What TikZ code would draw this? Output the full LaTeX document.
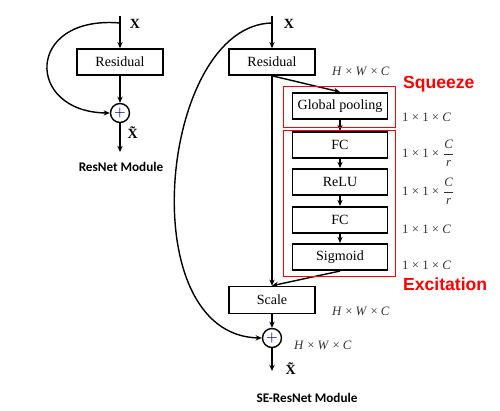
\documentclass[tikz,border=0pt]{standalone}
\usepackage{amsmath}
\usepackage{fontspec}
\setmainfont{Liberation Serif}
\newfontfamily\captionfont{Carlito}
\newfontfamily\tagfont{Liberation Sans}
\usetikzlibrary{arrows.meta,positioning}

\begin{document}
\begin{tikzpicture}[
    x=0.02cm, y=-0.02cm,
    every node/.style={font=\fontsize{8}{9.6}\selectfont},
    block/.style={draw, line width=0.9pt, minimum width=1.72cm, minimum height=0.52cm, inner sep=0pt},
    seblock/.style={block, minimum width=1.9cm, minimum height=0.53cm},
    sum/.style={draw, circle, line width=0.8pt, minimum size=0.38cm, inner sep=0pt, text=blue!40!black},
    arrow/.style={-{Stealth[length=3.5pt,width=3pt]}, line width=0.8pt},
    dim/.style={anchor=west, font=\fontsize{7.3}{8}\selectfont, text=black!80},
    redbox/.style={draw=red, line width=0.5pt},
    tag/.style={anchor=west, font=\tagfont\bfseries\fontsize{10}{12}\selectfont, text=red},
    caption/.style={font=\captionfont\bfseries\fontsize{7.5}{9}\selectfont, text=black},
]
\useasboundingbox (0,0) rectangle (500,411);

% ResNet module
\coordinate (lin) at (120,16);
\coordinate (lsplit) at (120,23);
\node[block] (lres) at (120,62) {Residual};
\node[sum] (lsum) at (120,113) {$+$};
\coordinate (lout) at (120,152);
\draw[arrow] (lin) -- (lres.north);
\draw[arrow] (lres.south) -- (lsum.north);
\draw[arrow] (lsum.south) -- (lout);
\draw[arrow] (lsplit) .. controls (25,15) and (25,112) .. (lsum.west);
\node (lx) at (135,24) {\textbf{X}};
\node (lxt) at (135,133) {\textbf{\~X}};
\node[caption] (lcap) at (121,167) {ResNet Module};

% SE-ResNet module
\coordinate (rin) at (272,16);
\coordinate (rsplit) at (272,23);
\node[block] (rres) at (272,62) {Residual};
\node[seblock] (gp) at (340,106) {Global pooling};
\node[seblock] (fc1) at (340,145) {FC};
\node[seblock] (relu) at (340,182) {ReLU};
\node[seblock] (fc2) at (340,220) {FC};
\node[seblock] (sig) at (340,257) {Sigmoid};
\node[block, minimum height=0.54cm] (scale) at (272,300) {Scale};
\node[sum] (rsum) at (272,338) {$+$};
\coordinate (rout) at (272,371);

\draw[arrow] (rin) -- (rres.north);
\draw[arrow] (rres.south) -- (gp.north);
\draw[arrow] (rres.south) -- (scale.north);
\draw[arrow] (gp.south) -- (fc1.north);
\draw[arrow] (fc1.south) -- (relu.north);
\draw[arrow] (relu.south) -- (fc2.north);
\draw[arrow] (fc2.south) -- (sig.north);
\draw[arrow] (sig.south) -- (scale.north);
\draw[arrow] (scale.south) -- (rsum.north);
\draw[arrow] (rsum.south) -- (rout);
\draw[arrow] (rsplit) .. controls (160,25) and (130,335) .. (rsum.west);

% squeeze / excitation frames
\draw[redbox] (283,86) rectangle (395,127);
\draw[redbox] (283,130) rectangle (395,276);
\node[tag] (sq) at (397,84) {Squeeze};
\node[tag] (ex) at (397,284) {Excitation};

% sizes
\node[dim] at (326,71) {\textit{H} × \textit{W} × \textit{C}};
\node[dim] at (396,117) {1 × 1 × \textit{C}};
\node[dim] at (396,153) {1 × 1 × $\dfrac{\textit{C}}{\textit{r}}$};
\node[dim] at (396,191) {1 × 1 × $\dfrac{\textit{C}}{\textit{r}}$};
\node[dim] at (396,229) {1 × 1 × \textit{C}};
\node[dim] at (396,265) {1 × 1 × \textit{C}};
\node[dim] at (326,311) {\textit{H} × \textit{W} × \textit{C}};
\node[dim] at (288,345) {\textit{H} × \textit{W} × \textit{C}};

\node (rx) at (289,24) {\textbf{X}};
\node (rxt) at (293,369) {\textbf{\~X}};
\node[caption] (rcap) at (307,398) {SE-ResNet Module};

\end{tikzpicture}
\end{document}
